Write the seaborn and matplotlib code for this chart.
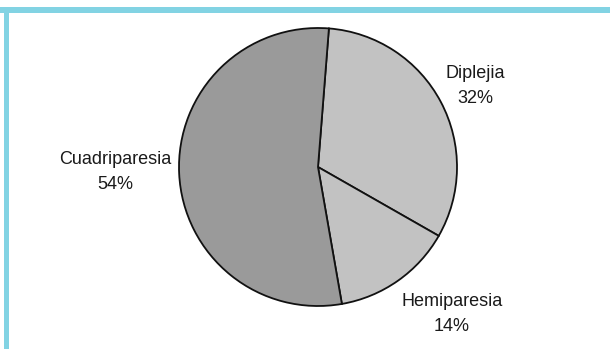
import matplotlib
matplotlib.use("Agg")
import matplotlib.pyplot as plt
from matplotlib.patches import Rectangle
import seaborn as sns

# Distribution of cerebral palsy types
categories = ["Diplejia", "Hemiparesia", "Cuadriparesia"]
percentages = [32, 14, 54]
slice_colors = ["#c2c2c2", "#c2c2c2", "#9a9a9a"]

sns.set_theme(style="white")
plt.rcParams["font.family"] = ["Liberation Sans", "DejaVu Sans"]

W, H = 610, 349
cx, cy, r = 318, 167, 139  # pie centre and radius in pixels

fig = plt.figure(figsize=(W / 100, H / 100), dpi=100)
fig.patch.set_facecolor("white")
ax = fig.add_axes([0, 0, 1, 1])

ax.pie(
    percentages,
    colors=slice_colors,
    startangle=85.5,
    counterclock=False,
    radius=1.0,
    wedgeprops=dict(edgecolor="#111111", linewidth=1.3),
)

# Label anchors (pixel positions of the text blocks)
label_px = {
    "Diplejia": (475, 86),
    "Hemiparesia": (452, 314),
    "Cuadriparesia": (115, 172),
}
for name, pct in zip(categories, percentages):
    px, py = label_px[name]
    ax.text(
        (px - cx) / r, (cy - py) / r,
        f"{name}\n{pct}%",
        ha="center", va="center", fontsize=13, color="#1a1a1a",
        linespacing=1.62,
    )

ax.set_xlim(-cx / r, (W - cx) / r)
ax.set_ylim((cy - H) / r, cy / r)
ax.set_aspect("equal", adjustable="box")
ax.axis("off")

# Light blue frame along the top and left edges
frame = "#82d3e3"
fig.patches.append(Rectangle((0, (H - 13) / H), 1, 6 / H, transform=fig.transFigure,
                             facecolor=frame, edgecolor="none", zorder=5))
fig.patches.append(Rectangle((4 / W, 0), 5 / W, (H - 7) / H, transform=fig.transFigure,
                             facecolor=frame, edgecolor="none", zorder=5))

fig.savefig("out.png", dpi=100, facecolor="white")
